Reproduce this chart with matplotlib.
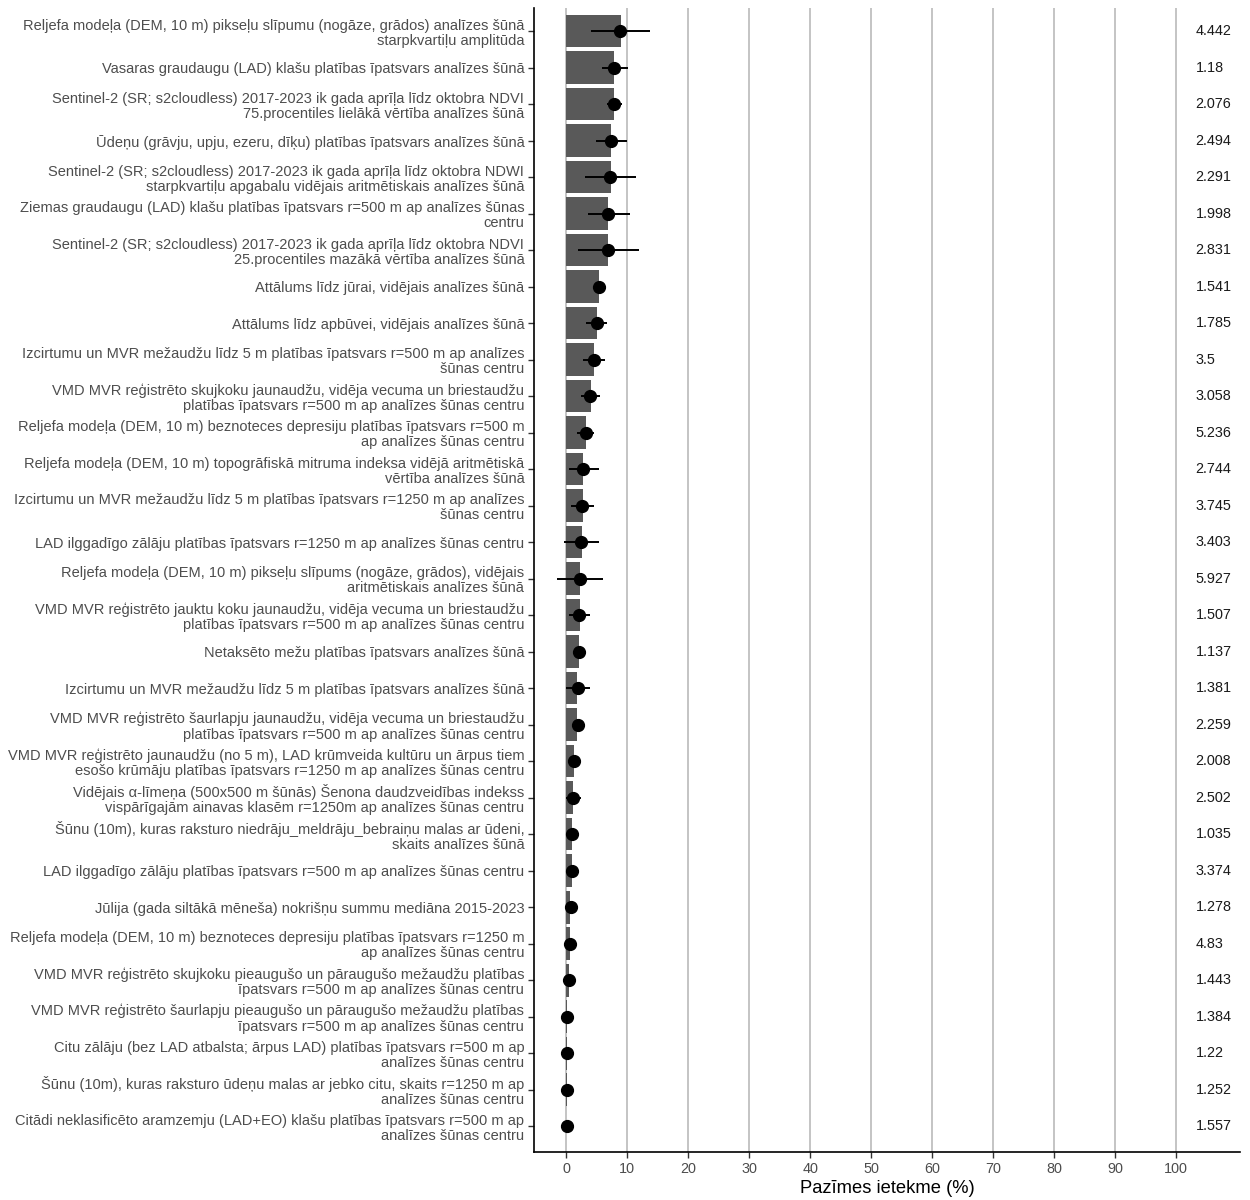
import matplotlib
matplotlib.use("Agg")
import matplotlib.pyplot as plt
import numpy as np

plt.rcParams['font.family'] = ['Liberation Sans', 'DejaVu Sans']

labels = [
    "Reljefa modeļa (DEM, 10 m) pikseļu slīpumu (nogāze, grādos) analīzes šūnā\nstarpkvartiļu amplitūda",
    "Vasaras graudaugu (LAD) klašu platības īpatsvars analīzes šūnā",
    "Sentinel-2 (SR; s2cloudless) 2017-2023 ik gada aprīļa līdz oktobra NDVI\n75.procentiles lielākā vērtība analīzes šūnā",
    "Ūdeņu (grāvju, upju, ezeru, dīķu) platības īpatsvars analīzes šūnā",
    "Sentinel-2 (SR; s2cloudless) 2017-2023 ik gada aprīļa līdz oktobra NDWI\nstarpkvartiļu apgabalu vidējais aritmētiskais analīzes šūnā",
    "Ziemas graudaugu (LAD) klašu platības īpatsvars r=500 m ap analīzes šūnas\ncentru",
    "Sentinel-2 (SR; s2cloudless) 2017-2023 ik gada aprīļa līdz oktobra NDVI\n25.procentiles mazākā vērtība analīzes šūnā",
    "Attālums līdz jūrai, vidējais analīzes šūnā",
    "Attālums līdz apbūvei, vidējais analīzes šūnā",
    "Izcirtumu un MVR mežaudžu līdz 5 m platības īpatsvars r=500 m ap analīzes\nšūnas centru",
    "VMD MVR reģistrēto skujkoku jaunaudžu, vidēja vecuma un briestaudžu\nplatības īpatsvars r=500 m ap analīzes šūnas centru",
    "Reljefa modeļa (DEM, 10 m) beznoteces depresiju platības īpatsvars r=500 m\nap analīzes šūnas centru",
    "Reljefa modeļa (DEM, 10 m) topogrāfiskā mitruma indeksa vidējā aritmētiskā\nvērtība analīzes šūnā",
    "Izcirtumu un MVR mežaudžu līdz 5 m platības īpatsvars r=1250 m ap analīzes\nšūnas centru",
    "LAD ilggadīgo zālāju platības īpatsvars r=1250 m ap analīzes šūnas centru",
    "Reljefa modeļa (DEM, 10 m) pikseļu slīpums (nogāze, grādos), vidējais\naritmētiskais analīzes šūnā",
    "VMD MVR reģistrēto jauktu koku jaunaudžu, vidēja vecuma un briestaudžu\nplatības īpatsvars r=500 m ap analīzes šūnas centru",
    "Netaksēto mežu platības īpatsvars analīzes šūnā",
    "Izcirtumu un MVR mežaudžu līdz 5 m platības īpatsvars analīzes šūnā",
    "VMD MVR reģistrēto šaurlapju jaunaudžu, vidēja vecuma un briestaudžu\nplatības īpatsvars r=500 m ap analīzes šūnas centru",
    "VMD MVR reģistrēto jaunaudžu (no 5 m), LAD krūmveida kultūru un ārpus tiem\nesošo krūmāju platības īpatsvars r=1250 m ap analīzes šūnas centru",
    "Vidējais α-līmeņa (500x500 m šūnās) Šenona daudzveidības indekss\nvispārīgajām ainavas klasēm r=1250m ap analīzes šūnas centru",
    "Šūnu (10m), kuras raksturo niedrāju_meldrāju_bebraiņu malas ar ūdeni,\nskaits analīzes šūnā",
    "LAD ilggadīgo zālāju platības īpatsvars r=500 m ap analīzes šūnas centru",
    "Jūlija (gada siltākā mēneša) nokrišņu summu mediāna 2015-2023",
    "Reljefa modeļa (DEM, 10 m) beznoteces depresiju platības īpatsvars r=1250 m\nap analīzes šūnas centru",
    "VMD MVR reģistrēto skujkoku pieaugušo un pāraugušo mežaudžu platības\nīpatsvars r=500 m ap analīzes šūnas centru",
    "VMD MVR reģistrēto šaurlapju pieaugušo un pāraugušo mežaudžu platības\nīpatsvars r=500 m ap analīzes šūnas centru",
    "Citu zālāju (bez LAD atbalsta; ārpus LAD) platības īpatsvars r=500 m ap\nanalīzes šūnas centru",
    "Šūnu (10m), kuras raksturo ūdeņu malas ar jebko citu, skaits r=1250 m ap\nanalīzes šūnas centru",
    "Citādi neklasificēto aramzemju (LAD+EO) klašu platības īpatsvars r=500 m ap\nanalīzes šūnas centru",
]

bar_values = [8.9, 7.9, 7.9, 7.4, 7.3, 6.9, 6.8, 5.3, 5.0, 4.5, 4.0, 3.2, 2.8, 2.7, 2.5, 2.2,
              2.2, 2.0, 1.8, 1.8, 1.3, 1.15, 1.0, 1.0, 0.6, 0.6, 0.5, 0.15, 0.1, 0.05, 0.03]
point_values = [8.85, 7.9, 7.8, 7.3, 7.2, 6.9, 6.8, 5.3, 5.0, 4.5, 3.9, 3.2, 2.8, 2.6, 2.45, 2.2,
                2.1, 2.0, 1.9, 1.9, 1.3, 1.1, 1.0, 0.9, 0.7, 0.55, 0.5, 0.15, 0.15, 0.05, 0.05]
err_low = [4.0, 5.8, 6.7, 4.9, 3.0, 3.5, 1.85, 4.5, 3.2, 2.7, 2.4, 1.7, 0.4, 0.7, -0.4, -1.6,
           0.4, 1.5, 0.0, 1.4, 0.9, 0.0, 0.7, 0.6, 0.4, 0.3, 0.3, 0.0, -0.1, -0.1, -0.1]
err_high = [13.7, 10.1, 9.2, 9.9, 11.5, 10.4, 11.9, 6.2, 6.7, 6.3, 5.5, 4.6, 5.3, 4.6, 5.3, 6.0,
            3.9, 2.6, 3.9, 2.4, 1.7, 2.4, 1.3, 1.2, 1.0, 0.8, 0.7, 0.4, 0.4, 0.2, 0.2]
side_numbers = ["4.442", "1.18", "2.076", "2.494", "2.291", "1.998", "2.831", "1.541", "1.785",
                "3.5", "3.058", "5.236", "2.744", "3.745", "3.403", "5.927", "1.507", "1.137",
                "1.381", "2.259", "2.008", "2.502", "1.035", "3.374", "1.278", "4.83", "1.443",
                "1.384", "1.22", "1.252", "1.557"]
x_ticks = [0, 10, 20, 30, 40, 50, 60, 70, 80, 90, 100]
x_label = "Pazīmes ietekme (%)"

n = len(labels)
y = np.arange(n)[::-1]

fig = plt.figure(figsize=(12.5, 12), dpi=100)
ax = fig.add_axes([0.4272, 0.04, 0.992 - 0.4272, 0.9933 - 0.04])

for xv in x_ticks:
    ax.axvline(xv, color='#C4C4C4', lw=1.4, zorder=0)

ax.barh(y, bar_values, height=0.9, color='#595959', zorder=2)
pv = np.array(point_values)
xerr = np.vstack([pv - np.array(err_low), np.array(err_high) - pv])
ax.errorbar(pv, y, xerr=xerr, fmt='none', ecolor='black', elinewidth=1.4, capsize=0, zorder=3)
ax.plot(pv, y, 'o', color='black', markersize=8.5, zorder=4)

for yi, s in zip(y, side_numbers):
    ax.text(103.2, yi, s, ha='left', va='center', fontsize=10.4, color='#1A1A1A')

ax.set_xlim(-5.3, 110.5)
ax.set_ylim(-0.71, n - 1 + 0.63)
ax.set_yticks(y)
ax.set_yticklabels(labels, fontsize=10.5, color='#4D4D4D', linespacing=1.12)
ax.set_xticks(x_ticks)
ax.set_xticklabels([str(t) for t in x_ticks], fontsize=10.4, color='#4D4D4D')
ax.set_xlabel(x_label, fontsize=13.2, color='black', labelpad=3)

for sp in ['top', 'right']:
    ax.spines[sp].set_visible(False)
for sp in ['left', 'bottom']:
    ax.spines[sp].set_color('black')
    ax.spines[sp].set_linewidth(1.2)
ax.tick_params(axis='both', length=4, width=1.0, color='#333333', pad=3)

fig.savefig("out.png", dpi=100)
